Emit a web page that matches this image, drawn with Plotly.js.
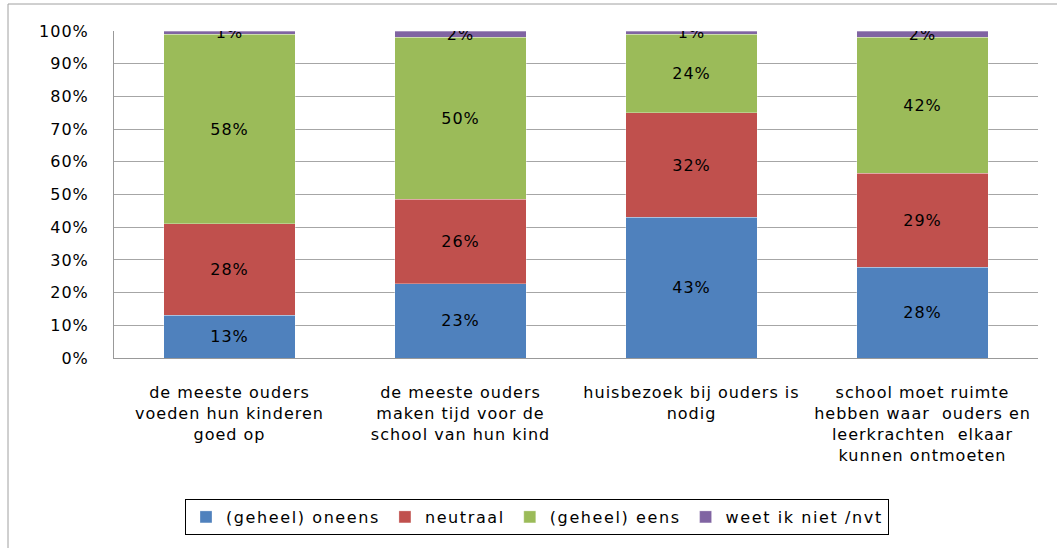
<!DOCTYPE html>
<html>
<head>
<meta charset="utf-8">
<script src="https://cdn.plot.ly/plotly-3.0.1.min.js"></script>
<style>
html,body{margin:0;padding:0;background:#fff;}
#chart{width:1057px;height:548px;}
svg text{letter-spacing:1px;}
svg text.legendtext{letter-spacing:1.6px;}
</style>
</head>
<body>
<div id="chart"></div>
<script>
var categories = [
  "de meeste ouders<br>voeden hun kinderen<br>goed op",
  "de meeste ouders<br>maken tijd voor de<br>school van hun kind",
  "huisbezoek bij ouders is<br>nodig",
  "school moet ruimte<br>hebben waar  ouders en<br>leerkrachten  elkaar<br>kunnen ontmoeten"
];
var seriesNames = ["(geheel) oneens", "neutraal", "(geheel) eens", "weet ik niet /nvt"];
var oneens  = [13, 23, 43, 28];
var neutraal = [28, 26, 32, 29];
var eens    = [58, 50, 24, 42];
var weetNiet = [1, 2, 1, 2];
var yTicks = [0, 0.1, 0.2, 0.3, 0.4, 0.5, 0.6, 0.7, 0.8, 0.9, 1];

var colors = ["#4F81BD", "#C0504D", "#9BBB59", "#8064A2"];
var seriesValues = [oneens, neutraal, eens, weetNiet];
var FONT = "DejaVu Sans, Verdana, sans-serif";

var traces = seriesValues.map(function (vals, i) {
  return {
    type: "bar",
    name: seriesNames[i],
    x: categories,
    y: vals,
    text: vals.map(function (v) { return v + "%"; }),
    textposition: "inside",
    insidetextanchor: "middle",
    textangle: 0,
    textfont: {family: FONT, size: 16, color: "#000"},
    marker: {color: colors[i], line: {color: "rgba(255,255,255,0.6)", width: 0.5}},
    hoverinfo: "skip"
  };
});

var L = 114, R = 1038, T = 31, B = 358;
var pw = R - L, ph = B - T;

var layout = {
  width: 1057, height: 548,
  margin: {l: L, r: 1057 - R, t: T, b: 548 - B, pad: 0},
  paper_bgcolor: "#fff", plot_bgcolor: "#fff",
  barmode: "stack",
  barnorm: "fraction",
  bargap: 0.43,
  showlegend: true,
  hovermode: false,
  font: {family: FONT, size: 16, color: "#000"},
  uniformtext: {mode: "show", minsize: 16},
  xaxis: {
    type: "category",
    showline: true, linecolor: "#999", linewidth: 1,
    showgrid: false, ticks: "", zeroline: false,
    ticklabelstandoff: 20,
    tickfont: {family: FONT, size: 16, color: "#000"}
  },
  yaxis: {
    range: [0, 1],
    tickvals: yTicks,
    tickformat: ".0%",
    showline: true, linecolor: "#999", linewidth: 1,
    showgrid: true, gridcolor: "#a6a6a6", gridwidth: 1,
    zeroline: false, ticks: "", ticklen: 0,
    ticklabelstandoff: 21,
    tickfont: {family: FONT, size: 16, color: "#000"},
    fixedrange: true
  },
  legend: {
    orientation: "h",
    x: (537 - L) / pw, xanchor: "center",
    y: (B - 499) / ph, yanchor: "top",
    bordercolor: "#000", borderwidth: 1,
    font: {family: FONT, size: 16, color: "#000"},
    traceorder: "normal"
  },
  shapes: [{
    type: "rect", xref: "paper", yref: "paper",
    x0: (8 - L) / pw, x1: (1070 - L) / pw,
    y0: (B - 560) / ph, y1: (B - 4) / ph,
    line: {color: "#a0a0a0", width: 1}, fillcolor: "rgba(0,0,0,0)",
    layer: "below"
  }]
};

Plotly.newPlot("chart", traces, layout, {displayModeBar: false, staticPlot: true});
</script>
</body>
</html>
